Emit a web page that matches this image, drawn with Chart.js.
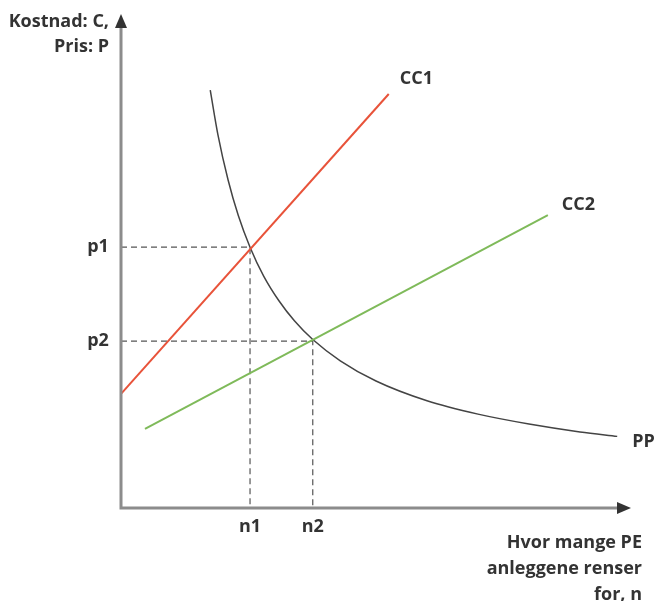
<!DOCTYPE html>
<html>
<head>
<meta charset="utf-8">
<script src="https://cdn.jsdelivr.net/npm/chart.js@4"></script>
<style>
  html, body { margin: 0; padding: 0; background: #fff; }
  #wrap { width: 656px; height: 601px; }
</style>
</head>
<body>
<div id="wrap"><canvas id="chart" width="656" height="601"></canvas></div>
<script>
// verdier lest av figuren (x: 0-10, y: 0-10)
const cc1X = [0, 5.25];
const cc1Y = [2.31, 8.38];
const cc2X = [0.47, 8.37];
const cc2Y = [1.60, 5.93];
const ppX = [1.75, 1.9, 2.1, 2.3, 2.53, 2.8, 3.1, 3.4, 3.76, 4.3, 5.0, 6.0, 7.0, 8.0, 9.0, 9.73];
const ppY = [8.46, 7.56, 6.64, 5.92, 5.28, 4.69, 4.19, 3.79, 3.41, 2.98, 2.57, 2.17, 1.90, 1.70, 1.54, 1.45];
const nValues = [2.53, 3.76];
const pValues = [5.28, 3.38];
const nLabels = ['n1', 'n2'];
const pLabels = ['p1', 'p2'];
const curveLabels = ['CC1', 'CC2', 'PP'];
const yTitle = ['Kostnad: C,', 'Pris: P'];
const xTitle = ['Hvor mange PE', 'anleggene renser', 'for, n'];

const toPoints = (xs, ys) => xs.map((x, i) => ({ x: x, y: ys[i] }));

const guides = nValues.map((n, i) => ({
    data: [{ x: 0, y: pValues[i] }, { x: n, y: pValues[i] }, { x: n, y: 0 }],
    borderColor: '#555',
    borderWidth: 1.2,
    borderDash: [6, 4],
    showLine: true,
    pointRadius: 0,
    clip: false
}));

const FONT = 'bold 18px "Open Sans", sans-serif';
const TEXT = '#333';

const axesPlugin = {
    id: 'axes',
    afterDraw(chart) {
        const ctx = chart.ctx;
        const a = chart.chartArea;
        const xs = chart.scales.x, ys = chart.scales.y;
        ctx.save();
        // akser
        ctx.strokeStyle = '#8c8c8c';
        ctx.lineWidth = 3;
        ctx.beginPath();
        ctx.moveTo(a.left, a.top + 10);
        ctx.lineTo(a.left, a.bottom);
        ctx.lineTo(a.right - 10, a.bottom);
        ctx.stroke();
        // piler
        ctx.fillStyle = '#333';
        ctx.beginPath();
        ctx.moveTo(a.left, a.top);
        ctx.lineTo(a.left - 6, a.top + 14);
        ctx.lineTo(a.left + 6, a.top + 14);
        ctx.closePath();
        ctx.fill();
        ctx.beginPath();
        ctx.moveTo(a.right, a.bottom);
        ctx.lineTo(a.right - 14, a.bottom - 6);
        ctx.lineTo(a.right - 14, a.bottom + 6);
        ctx.closePath();
        ctx.fill();

        ctx.font = FONT;
        ctx.fillStyle = TEXT;
        ctx.textBaseline = 'middle';
        // p- og n-etiketter
        ctx.textAlign = 'center';
        pLabels.forEach((t, i) => ctx.fillText(t, a.left - 23, ys.getPixelForValue(pValues[i])));
        nLabels.forEach((t, i) => ctx.fillText(t, xs.getPixelForValue(nValues[i]), a.bottom + 19));
        // kurvenavn
        ctx.textAlign = 'left';
        ctx.fillText(curveLabels[0], xs.getPixelForValue(cc1X[1]) + 11, ys.getPixelForValue(cc1Y[1]) - 15);
        ctx.fillText(curveLabels[1], xs.getPixelForValue(cc2X[1]) + 14, ys.getPixelForValue(cc2Y[1]) - 10);
        ctx.fillText(curveLabels[2], xs.getPixelForValue(ppX[ppX.length - 1]) + 15, ys.getPixelForValue(ppY[ppY.length - 1]) + 6);
        // aksetitler
        ctx.textAlign = 'right';
        yTitle.forEach((t, i) => ctx.fillText(t, a.left - 12, 22 + i * 25));
        xTitle.forEach((t, i) => ctx.fillText(t, 642, a.bottom + 35 + i * 26));
        ctx.restore();
    }
};

new Chart(document.getElementById('chart'), {
    type: 'scatter',
    data: {
        datasets: [
            {
                data: toPoints(cc1X, cc1Y),
                borderColor: '#e8533a',
                borderWidth: 2,
                showLine: true,
                pointRadius: 0,
                clip: false
            },
            {
                data: toPoints(cc2X, cc2Y),
                borderColor: '#7fba5a',
                borderWidth: 2,
                showLine: true,
                pointRadius: 0,
                clip: false
            },
            {
                data: toPoints(ppX, ppY),
                borderColor: '#444',
                borderWidth: 1.5,
                showLine: true,
                tension: 0.4,
                cubicInterpolationMode: 'monotone',
                pointRadius: 0,
                clip: false
            },
            ...guides
        ]
    },
    options: {
        responsive: false,
        animation: false,
        devicePixelRatio: 1,
        layout: { padding: { left: 121, right: 25, top: 14, bottom: 93 } },
        plugins: { legend: { display: false }, tooltip: { enabled: false } },
        scales: {
            x: { type: 'linear', min: 0, max: 10, display: false },
            y: { type: 'linear', min: 0, max: 10, display: false }
        }
    },
    plugins: [axesPlugin]
});
</script>
</body>
</html>
